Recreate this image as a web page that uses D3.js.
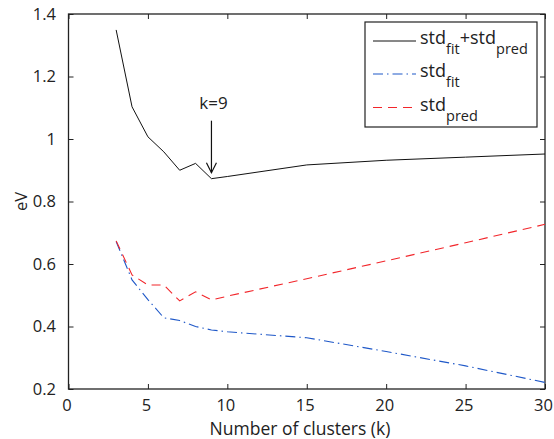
<!DOCTYPE html>
<html>
<head>
<meta charset="utf-8">
<script src="https://cdn.jsdelivr.net/npm/d3@7"></script>
<style>
  html, body { margin: 0; padding: 0; background: #fff; }
  svg { display: block; }
  text { font-family: "Open Sans", "Noto Sans", sans-serif; fill: #222; }
</style>
</head>
<body>
<svg id="chart" width="554" height="439"></svg>
<script>
// Number of clusters k
const clusters = [3, 4, 5, 6, 7, 8, 9, 10, 15, 20, 25, 30];
// Standard deviation of the fit (eV)
const stdFit  = [0.672, 0.549, 0.486, 0.428, 0.419, 0.400, 0.389, 0.383, 0.364, 0.320, 0.274, 0.221];
// Standard deviation of the prediction (eV)
const stdPred = [0.674, 0.565, 0.533, 0.533, 0.482, 0.511, 0.485, 0.497, 0.553, 0.610, 0.668, 0.727];
// Sum of both (eV)
const stdSum  = [1.349, 1.103, 1.007, 0.959, 0.900, 0.922, 0.873, 0.880, 0.917, 0.932, 0.942, 0.952];

const xTicks = [0, 5, 10, 15, 20, 25, 30];
const yTicks = [0.2, 0.4, 0.6, 0.8, 1.0, 1.2, 1.4];
const chosenK = 9;

const svg = d3.select("#chart");
const plotL = 68.5, plotR = 545, plotT = 14, plotB = 389;

const x = d3.scaleLinear().domain([0, 30]).range([plotL, plotR]);
const y = d3.scaleLinear().domain([0.2, 1.4]).range([plotB, plotT]);

const axisColor = "#222";
const tickLen = 5;

// Box-style axes with inward ticks
const gBottom = svg.append("g").attr("transform", `translate(0,${plotB})`)
  .call(d3.axisBottom(x).tickValues(xTicks).tickSizeInner(-tickLen).tickSizeOuter(0).tickPadding(10).tickFormat(d3.format("d")));
const gTop = svg.append("g").attr("transform", `translate(0,${plotT})`)
  .call(d3.axisTop(x).tickValues(xTicks).tickSizeInner(-tickLen).tickSizeOuter(0).tickFormat(""));
const gLeft = svg.append("g").attr("transform", `translate(${plotL},0)`)
  .call(d3.axisLeft(y).tickValues(yTicks).tickSizeInner(-tickLen).tickSizeOuter(0).tickPadding(12.5)
    .tickFormat(d => d === 1 ? "1" : d3.format(".1f")(d)));
const gRight = svg.append("g").attr("transform", `translate(${plotR},0)`)
  .call(d3.axisRight(y).tickValues(yTicks).tickSizeInner(-tickLen).tickSizeOuter(0).tickFormat(""));

[gBottom, gTop, gLeft, gRight].forEach(g => {
  g.select(".domain").remove();
  g.selectAll(".tick line").attr("stroke", axisColor).attr("stroke-width", 1);
  g.selectAll(".tick text").attr("font-size", 16.5).attr("fill", "#222")
    .style("font-family", "'Open Sans', sans-serif");
});
gBottom.selectAll(".tick text").attr("dx", -2);

// Frame
svg.append("rect")
  .attr("x", plotL).attr("y", plotT)
  .attr("width", plotR - plotL).attr("height", plotB - plotT)
  .attr("fill", "none").attr("stroke", axisColor).attr("stroke-width", 1.3);

// Axis titles
svg.append("text")
  .attr("x", 300).attr("y", 435)
  .attr("text-anchor", "middle").attr("font-size", 17.5)
  .text("Number of clusters (k)");
svg.append("text")
  .attr("transform", `translate(27,${(plotT + plotB) / 2}) rotate(-90)`)
  .attr("text-anchor", "middle").attr("font-size", 16.5)
  .text("eV");

// Series
const series = [
  { values: stdSum,  color: "#111",    dash: null,          width: 1.0 },
  { values: stdFit,  color: "#1f58c8", dash: "10,4,1.5,4",  width: 1.1 },
  { values: stdPred, color: "#f2262b", dash: "9,6",         width: 1.1 }
];

const line = d3.line().x(d => x(d[0])).y(d => y(d[1]));

series.forEach(s => {
  svg.append("path")
    .datum(clusters.map((k, i) => [k, s.values[i]]))
    .attr("d", line)
    .attr("fill", "none")
    .attr("stroke", s.color)
    .attr("stroke-width", s.width)
    .attr("stroke-dasharray", s.dash);
});

// Annotation arrow at the chosen k
const iK = clusters.indexOf(chosenK);
const ax = x(chosenK);
const tipY = y(stdSum[iK]) - 6;
const tailY = tipY - 52;
svg.append("line")
  .attr("x1", ax).attr("x2", ax).attr("y1", tailY).attr("y2", tipY)
  .attr("stroke", "#111").attr("stroke-width", 1.2);
svg.append("path")
  .attr("d", `M${ax - 5},${tipY - 10} L${ax},${tipY} L${ax + 5},${tipY - 10}`)
  .attr("fill", "none").attr("stroke", "#111").attr("stroke-width", 1.2);
svg.append("text")
  .attr("x", ax + 2).attr("y", tailY - 12)
  .attr("text-anchor", "middle").attr("font-size", 17)
  .text("k=" + chosenK);

// Legend
const lg = svg.append("g");
lg.append("rect")
  .attr("x", 365).attr("y", 22).attr("width", 172).attr("height", 105)
  .attr("fill", "#fff").attr("stroke", "#222").attr("stroke-width", 1.2);

const legendRows = [
  { parts: [["std", null], ["fit", "sub"], ["+std", null], ["pred", "sub"]], s: series[0], y: 41 },
  { parts: [["std", null], ["fit", "sub"]], s: series[1], y: 74 },
  { parts: [["std", null], ["pred", "sub"]], s: series[2], y: 107.5 }
];

legendRows.forEach(r => {
  lg.append("line")
    .attr("x1", 373).attr("x2", 416).attr("y1", r.y).attr("y2", r.y)
    .attr("stroke", r.s.color).attr("stroke-width", r.s.width)
    .attr("stroke-dasharray", r.s.dash);
  const t = lg.append("text").attr("x", 420).attr("y", r.y + 3).attr("font-size", 18);
  r.parts.forEach(([str, kind]) => {
    const ts = t.append("tspan").text(str);
    if (kind === "sub") ts.attr("font-size", 14.5).attr("dy", 10);
    else if (t.selectAll("tspan").size() > 1) ts.attr("dy", -10);
  });
});
</script>
</body>
</html>
